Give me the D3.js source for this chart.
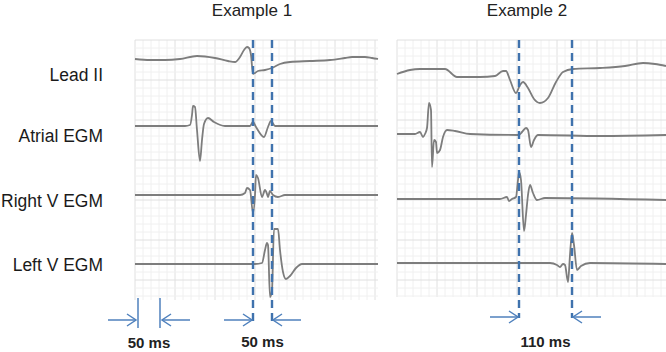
<!DOCTYPE html>
<html><head><meta charset="utf-8">
<script src="https://cdn.jsdelivr.net/npm/d3@7"></script>
<style>html,body{margin:0;padding:0;background:#fff;}svg{display:block;}</style>
</head><body>
<svg id="c" width="666" height="352"></svg>
<script>
// ---------- data (time in ms, amplitude in mV) ----------
const examples = ["Example 1", "Example 2"];
const leads = ["Lead II", "Atrial EGM", "Right V EGM", "Left V EGM"];

const ex1LeadII = [[0,0.05],[37.5,0],[75,0],[112.5,0.05],[155,0.2],[200,0.1],[232.5,-0.05],[250,-0.1],[262.5,0.15],[272.5,0.5],[280,0.65],[285,0.6],[290,0.25],[295,-0.7],[300,-0.65],[307.5,-0.55],[325,-0.5],[342.5,-0.4],[362.5,-0.2],[387.5,-0.1],[437.5,-0.05],[487.5,0],[525,0.1],[542.5,0.15],[575,0.15],[592.5,0.1],[607.5,0.05]];
const ex1Atrial = [[0,0],[125,0],[137.5,0.05],[142.5,0.55],[145,1.0],[150,0.95],[155,-0.2],[162.5,-1.75],[167.5,-0.7],[172.5,0.1],[182.5,0.4],[197.5,0.2],[225,0],[287.5,0],[295,0.2],[302.5,-0.05],[322.5,-0.55],[332.5,-0.05],[340,0.25],[350,0],[607.5,0]];
const ex1RightV = [[0,0],[262.5,0],[275,0.1],[280,0.35],[287.5,0.25],[295,-0.9],[300,0],[302.5,1.0],[307.5,0.85],[317.5,-0.1],[325,0.25],[330,0.05],[332.5,-0.1],[337.5,0.2],[345,0],[357.5,-0.1],[375,0],[607.5,0]];
const ex1LeftV = [[0,0],[300,0],[317.5,0.05],[325,0.7],[330,1.05],[332.5,0.95],[337.5,-1.65],[342.5,-1.3],[347.5,1.75],[357.5,1.75],[362.5,0.7],[370,-0.4],[377.5,-0.75],[387.5,-0.6],[402.5,-0.2],[417.5,0],[607.5,0]];

const ex2LeadII = [[0,-0.1],[26,0.1],[46,0.15],[96,0.15],[120,-0.25],[166,-0.25],[196,-0.2],[212,0.05],[218,0.05],[226,-0.4],[238,-1.05],[246,-0.65],[252,-0.5],[262,-0.8],[274,-1.35],[286,-1.55],[302,-1.3],[318,-0.5],[332,0],[352,0.15],[406,0.2],[456,0.3],[492,0.45],[516,0.4],[538,0.3]];
const ex2Atrial = [[0,0.05],[36,0.05],[46,0.15],[52,-0.1],[56,0.05],[60,0.35],[64,1.6],[68,1.25],[70,-1.6],[74,-0.25],[78,-0.35],[80,-0.9],[86,-0.75],[92,-0.1],[100,0.25],[116,0.2],[146,0.05],[244,0],[250,0.15],[258,0.35],[262,0.25],[268,-0.6],[274,-0.25],[282,0],[406,-0.05],[538,0]];
const ex2RightV = [[0,0],[206,0],[220,0.1],[224,-0.1],[230,0],[238,0.1],[242,0.95],[244,1.35],[248,0.95],[254,-1.6],[258,-0.8],[262,0.2],[266,0.7],[272,0.3],[280,-0.05],[296,0.05],[538,-0.05]];
const ex2LeftV = [[0,0],[306,0],[320,-0.1],[326,-0.2],[332,-0.05],[336,-0.1],[342,-0.95],[346,0.4],[350,1.5],[354,0.9],[360,-0.35],[368,-0.15],[386,0],[538,-0.05]];

// activation markers (ms) and intervals
const ex1Markers = [295, 342.5];
const ex2Markers = [244, 350];
const ex1Calib = [5, 60];
const intervalLabels = ["50 ms", "50 ms", "110 ms"];

// ---------- drawing ----------
const svg = d3.select("#c");
const traceColor = "#7d7d7d", blue = "#3f72ad", arrowBlue = "#4f81bd";

const panels = [
  {title: examples[0], x: d3.scaleLinear().domain([0, 607.5]).range([135, 378]), top: 40, bottom: 300,
   traces: [ex1LeadII, ex1Atrial, ex1RightV, ex1LeftV], bases: [60, 126, 195, 264],
   markers: ex1Markers, markerBottom: 322, arrowY: 320, titleX: 252},
  {title: examples[1], x: d3.scaleLinear().domain([0, 538]).range([397, 666]), top: 40, bottom: 297,
   traces: [ex2LeadII, ex2Atrial, ex2RightV, ex2LeftV], bases: [72, 135, 199, 263],
   markers: ex2Markers, markerBottom: 318, arrowY: 317, titleX: 527}
];

function arrow(g, tipX, y, dir, len) {
  g.append("line").attr("x1", tipX - dir * len).attr("x2", tipX).attr("y1", y).attr("y2", y)
    .attr("stroke", arrowBlue).attr("stroke-width", 1.5);
  g.append("path").attr("d", `M${tipX - dir * 9},${y - 6} L${tipX},${y} L${tipX - dir * 9},${y + 6}`)
    .attr("fill", "none").attr("stroke", arrowBlue).attr("stroke-width", 1.5);
}

panels.forEach((p, pi) => {
  const g = svg.append("g");
  const [x0, x1] = p.x.range();
  const grid = g.append("g");
  const step = pi === 0 ? 20 : 16;
  const vt = d3.range(0, p.x.domain()[1] + 0.01, step);
  vt.forEach((t, i) => {
    grid.append("line").attr("x1", p.x(t)).attr("x2", p.x(t)).attr("y1", p.top).attr("y2", p.bottom)
      .attr("stroke", i % 5 === 0 ? "#e0e0e0" : "#f0f0f0").attr("stroke-width", 1);
  });
  const gy = d3.scaleLinear().domain([0, 32]).range([p.top, p.top + 256]);
  d3.range(0, 33).forEach(i => {
    const yy = gy(i);
    if (yy > p.bottom) return;
    grid.append("line").attr("x1", x0).attr("x2", x1).attr("y1", yy).attr("y2", yy)
      .attr("stroke", i % 5 === 0 ? "#e0e0e0" : "#f0f0f0").attr("stroke-width", 1);
  });

  p.traces.forEach((data, ti) => {
    const y = d3.scaleLinear().domain([-1, 1]).range([p.bases[ti] + 20, p.bases[ti] - 20]);
    const line = d3.line().x(d => p.x(d[0])).y(d => y(d[1])).curve(d3.curveMonotoneX);
    g.append("path").datum(data).attr("d", line).attr("fill", "none")
      .attr("stroke", traceColor).attr("stroke-width", 1.8).attr("stroke-linejoin", "round");
  });

  p.markers.forEach(m => {
    g.append("line").attr("x1", p.x(m)).attr("x2", p.x(m)).attr("y1", p.top).attr("y2", p.markerBottom)
      .attr("stroke", blue).attr("stroke-width", 2.4).attr("stroke-dasharray", "8,5");
  });
  arrow(g, p.x(p.markers[0]) - 1, p.arrowY, 1, 28);
  arrow(g, p.x(p.markers[1]) + 1, p.arrowY, -1, 28);

  g.append("text").attr("x", p.titleX).attr("y", 16).attr("text-anchor", "middle")
    .attr("font-family", "Liberation Sans, Arial, sans-serif").attr("font-size", 17).attr("fill", "#222")
    .text(p.title);
});

const xc = panels[0].x;
ex1Calib.forEach(c => {
  svg.append("line").attr("x1", xc(c) + 1).attr("x2", xc(c) + 1).attr("y1", 298).attr("y2", 328)
    .attr("stroke", arrowBlue).attr("stroke-width", 1.5);
});
arrow(svg, xc(ex1Calib[0]) - 1, 320, 1, 28);
arrow(svg, xc(ex1Calib[1]) + 3, 320, -1, 28);

const labelPos = [[(xc(ex1Calib[0]) + xc(ex1Calib[1])) / 2 + 1, 348],
                  [(panels[0].x(ex1Markers[0]) + panels[0].x(ex1Markers[1])) / 2, 347],
                  [(panels[1].x(ex2Markers[0]) + panels[1].x(ex2Markers[1])) / 2, 347]];
intervalLabels.forEach((t, i) => {
  svg.append("text").attr("x", labelPos[i][0]).attr("y", labelPos[i][1]).attr("text-anchor", "middle")
    .attr("font-family", "Liberation Sans, Arial, sans-serif").attr("font-weight", "bold")
    .attr("font-size", 15).attr("fill", "#222").text(t);
});

const labelBase = [81, 142, 207, 271];
leads.forEach((t, i) => {
  svg.append("text").attr("transform", `translate(103,${labelBase[i]}) scale(0.92,1)`)
    .attr("text-anchor", "end").attr("font-family", "Liberation Sans, Arial, sans-serif")
    .attr("font-size", 19).attr("fill", "#1a1a1a").text(t);
});
</script>
</body></html>
